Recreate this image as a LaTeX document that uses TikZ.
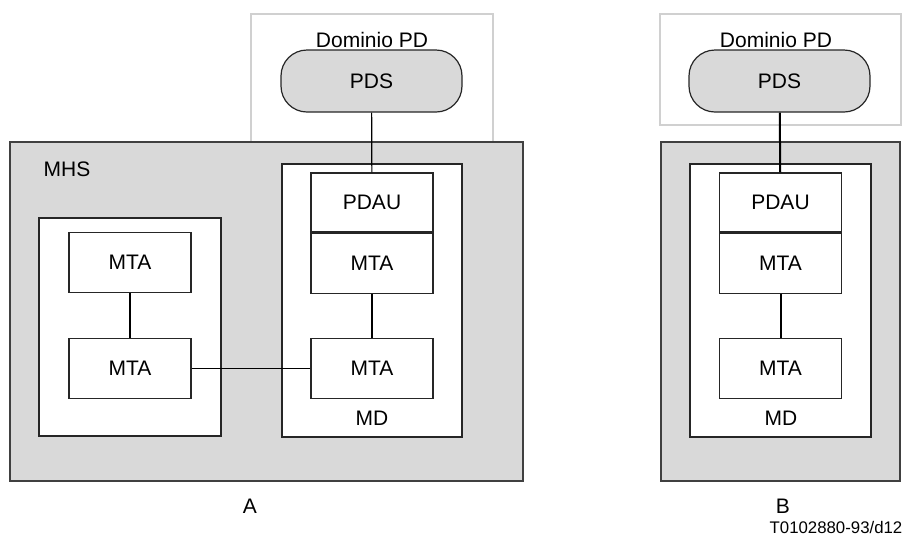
\documentclass[tikz,border=0pt]{standalone}
\usepackage{fontspec}
\setmainfont{Liberation Sans}
\usetikzlibrary{positioning}

\definecolor{mhsgray}{RGB}{217,217,217}
\definecolor{domgray}{RGB}{208,208,208}

\tikzset{
  box/.style={draw=black!85, fill=white, line width=0.6pt, inner sep=0pt,
    minimum width=61pt, minimum height=30pt},
  pdsbox/.style={draw=black!85, fill=mhsgray, line width=0.6pt, inner sep=0pt,
    rounded corners=13pt, minimum width=90.5pt, minimum height=31pt},
  domainframe/.style={draw=domgray, line width=0.8pt},
  mhsframe/.style={draw=black!75, fill=mhsgray, line width=0.8pt},
  mdframe/.style={draw=black!85, fill=white, line width=0.6pt},
  link/.style={line width=0.6pt},
  linkB/.style={line width=1pt}
}

\begin{document}
\begin{tikzpicture}[x=0.5pt,y=-0.5pt, font=\fontsize{10.5}{12}\selectfont]
  \useasboundingbox (0,0) rectangle (907,538);

  % A
  \draw[domainframe] (251,14) rectangle (493,142);
  \node (domA) at (372,40) {Dominio PD};
  \node[pdsbox] (pdsA) at (371.5,81) {PDS};

  \draw[mhsframe] (10,142) rectangle (523,481);
  \node (mhs) at (67,169.5) {MHS};

  \draw[mdframe] (39,218) rectangle (221,436);
  \draw[mdframe] (282,164) rectangle (462,437);

  \node[box] (mtaA1) at (130,262.5) {MTA};
  \node[box] (mtaA2) at (130,368.5) {MTA};

  \node[box, minimum height=29.5pt] (pdauA) at (372,202.5) {PDAU};
  \node[box, below=0pt of pdauA] (mtaA3) {MTA};
  \node[box] (mtaA4) at (372,368.5) {MTA};
  \node (mdA) at (372,418.5) {MD};

  \draw[link] (pdsA) -- (pdauA);
  \draw[link] (mtaA1) -- (mtaA2);
  \draw[link] (mtaA3) -- (mtaA4);
  \draw[link] (mtaA2) -- (mtaA4);

  \node (labA) at (250,506) {A};

  % B
  \draw[domainframe] (660,14) rectangle (901,125);
  \node (domB) at (776,40) {Dominio PD};
  \node[pdsbox] (pdsB) at (779.5,81) {PDS};

  \draw[mhsframe] (661,142) rectangle (900,481);
  \draw[mdframe] (690,164) rectangle (871,437);

  \node[box, minimum height=29.5pt] (pdauB) at (780.5,202.5) {PDAU};
  \node[box, below=0pt of pdauB] (mtaB1) {MTA};
  \node[box] (mtaB2) at (780.5,368.5) {MTA};
  \node (mdB) at (781,418.5) {MD};

  \draw[linkB] (pdsB) -- (pdauB);
  \draw[linkB] (mtaB1) -- (mtaB2);

  \node (labB) at (783,506) {B};
  \node[font=\fontsize{8.4}{10}\selectfont] (ref) at (836,527) {T0102880-93/d12};
\end{tikzpicture}
\end{document}
